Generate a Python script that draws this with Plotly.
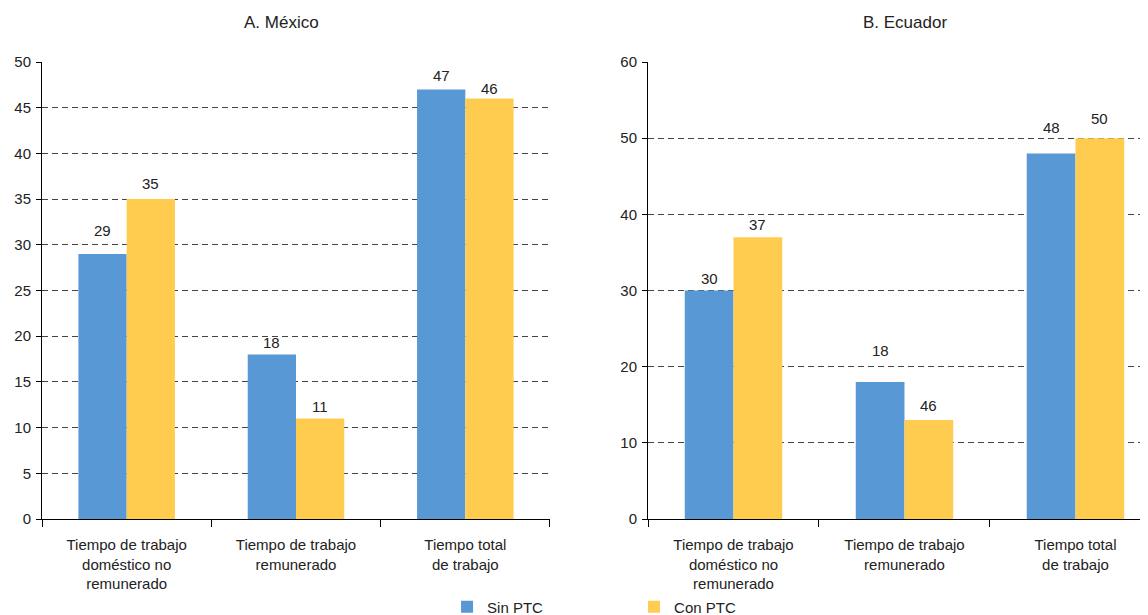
import plotly.graph_objects as go

# ---- data ----
categories = ["Tiempo de trabajo<br>doméstico no<br>remunerado",
              "Tiempo de trabajo<br>remunerado",
              "Tiempo total<br>de trabajo"]
series_names = ["Sin PTC", "Con PTC"]

mexico_sin = [29, 18, 47]
mexico_con = [35, 11, 46]
mexico_sin_labels = ["29", "18", "47"]
mexico_con_labels = ["35", "11", "46"]

ecuador_sin = [30, 18, 48]
ecuador_con = [37, 13, 50]
ecuador_sin_labels = ["30", "18", "48"]
ecuador_con_labels = ["37", "46", "50"]

panel_titles = ["A. México", "B. Ecuador"]

# ---- style ----
BLUE = "#5898D4"
YELLOW = "#FFCC4F"
FONT = "Liberation Sans, Arial, sans-serif"
TXT = "#222222"
BARGAP = 0.43
# label lift above bar top (px), per panel / series
lift_mx_sin = [23, 12, 14]
lift_mx_con = [16, 12, 10]
lift_ec_sin = [12, 31, 26]
lift_ec_con = [13, 14, 20]

fig = go.Figure()
fig.add_trace(go.Bar(x=categories, y=mexico_sin, name=series_names[0], marker_color=BLUE,
                     xaxis="x", yaxis="y", legendgroup="s"))
fig.add_trace(go.Bar(x=categories, y=mexico_con, name=series_names[1], marker_color=YELLOW,
                     xaxis="x", yaxis="y", legendgroup="c"))
fig.add_trace(go.Bar(x=categories, y=ecuador_sin, name=series_names[0], marker_color=BLUE,
                     xaxis="x2", yaxis="y2", legendgroup="s", showlegend=False))
fig.add_trace(go.Bar(x=categories, y=ecuador_con, name=series_names[1], marker_color=YELLOW,
                     xaxis="x2", yaxis="y2", legendgroup="c", showlegend=False))
for tr in fig.data:
    tr.marker.line.width = 0

half = (1 - BARGAP) / 4  # center offset of each bar in category units

annotations = []
def add_labels(vals, labels, lifts, side, xr, yr):
    for i, (v, lab, lf) in enumerate(zip(vals, labels, lifts)):
        annotations.append(dict(x=i + side * half, y=v, xref=xr, yref=yr, text=lab,
                                showarrow=False, yanchor="middle", yshift=lf,
                                font=dict(family=FONT, size=15, color=TXT)))

add_labels(mexico_sin, mexico_sin_labels, lift_mx_sin, -1, "x", "y")
add_labels(mexico_con, mexico_con_labels, lift_mx_con, 1, "x", "y")
add_labels(ecuador_sin, ecuador_sin_labels, lift_ec_sin, -1, "x2", "y2")
add_labels(ecuador_con, ecuador_con_labels, lift_ec_con, 1, "x2", "y2")

annotations.append(dict(x=0.2154, y=1.0875, xref="paper", yref="paper", text=panel_titles[0],
                        xanchor="center", yanchor="middle",
                        showarrow=False, font=dict(family=FONT, size=17, color=TXT)))
annotations.append(dict(x=0.7747, y=1.0875, xref="paper", yref="paper", text=panel_titles[1],
                        xanchor="center", yanchor="middle",
                        showarrow=False, font=dict(family=FONT, size=17, color=TXT)))

xcommon = dict(type="category", showline=True, linecolor="black", linewidth=1,
               ticks="outside", tickson="boundaries", ticklen=7, tickcolor="black",
               showgrid=False, zeroline=False, automargin=False, ticklabelstandoff=12,
               tickfont=dict(family=FONT, size=15, color=TXT))
ycommon = dict(showline=True, linecolor="black", linewidth=1, ticks="outside", ticklen=5,
               tickcolor="black", showgrid=True, gridcolor="#444444", griddash="6px,4px",
               gridwidth=1, zeroline=False, automargin=False, ticklabelstandoff=2,
               tickfont=dict(family=FONT, size=15, color=TXT))

fig.update_layout(
    width=1148, height=615,
    margin=dict(l=34, r=0, t=54, b=104, autoexpand=False),
    paper_bgcolor="white", plot_bgcolor="white",
    barmode="group", bargap=BARGAP, bargroupgap=0,
    xaxis=dict(domain=[0, 0.4560], range=[-0.5, 2.5], anchor="y", **xcommon),
    xaxis2=dict(domain=[0.5440, 1], range=[-0.5, 2.471], anchor="y2", **xcommon),
    yaxis=dict(range=[0, 50], dtick=5, anchor="x", **ycommon),
    yaxis2=dict(range=[0, 60], dtick=10, anchor="x2", **ycommon),
    annotations=annotations,
    showlegend=True,
    legend=dict(orientation="h", x=0.3636, xanchor="left", y=-0.1926, yanchor="middle",
                entrywidth=142, entrywidthmode="pixels",
                font=dict(family=FONT, size=15, color=TXT), bgcolor="rgba(0,0,0,0)"),
    font=dict(family=FONT, color=TXT),
)

fig.write_html("out.html")
